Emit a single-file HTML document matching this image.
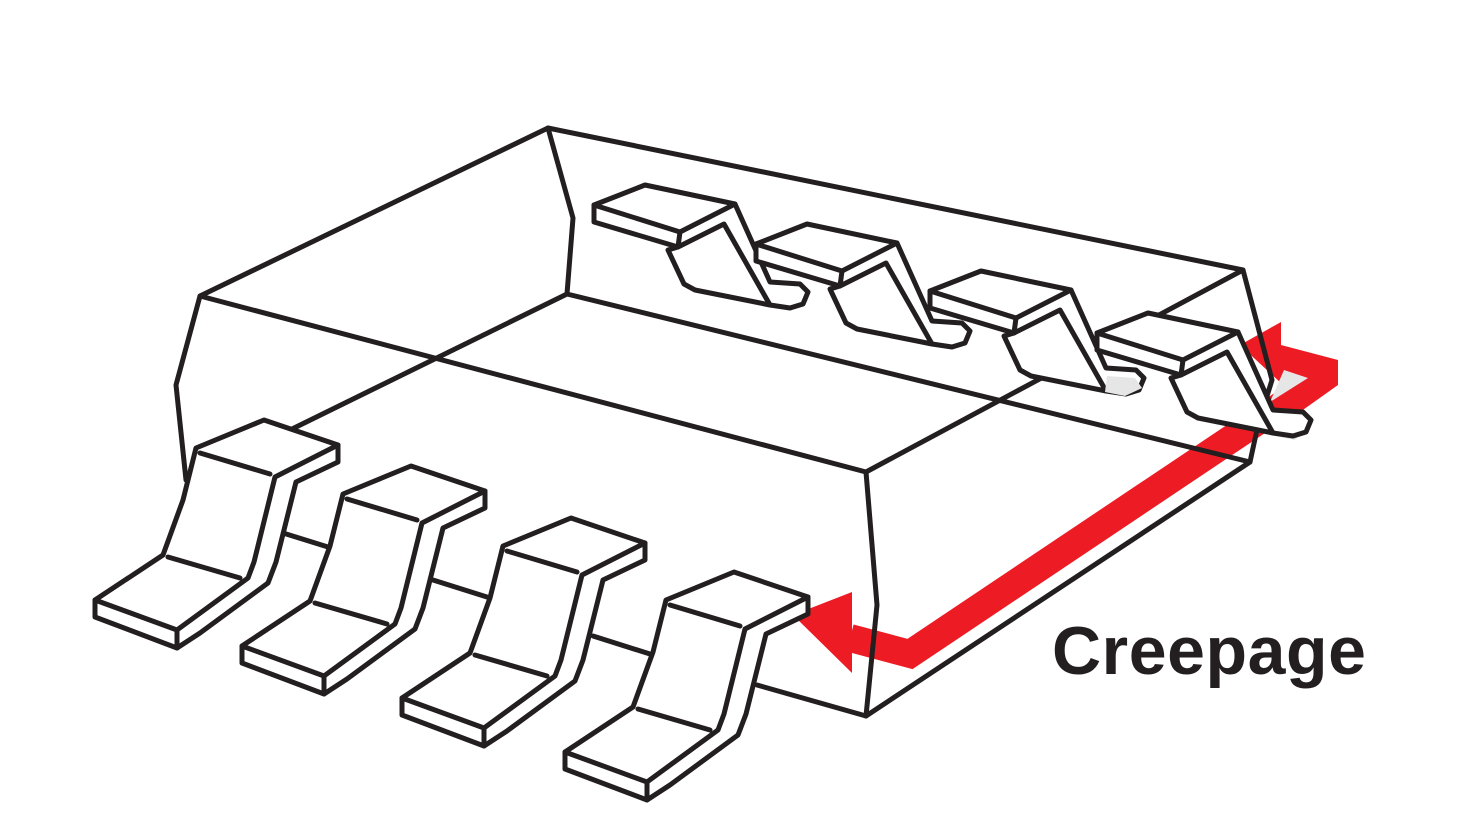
<!DOCTYPE html>
<html><head><style>html,body{margin:0;padding:0;background:#fff}svg{display:block}</style></head>
<body>
<svg width="1470" height="827" viewBox="0 0 1470 827" xmlns="http://www.w3.org/2000/svg">
<defs>
<g id="fl" fill="none" stroke="#231f20" stroke-width="5" stroke-linejoin="round" stroke-linecap="round">
  <path d="M196,448 L264,420 L338,445 L338,462 L296,482 L276,562 L268,583 L200,633 L177,648 L95,617 L95,600 L163,555 L183,500 Z" fill="#fff"/>
  <path d="M338,445 L275,477 L254,562 L248,578 L177,630 L95,600"/>
  <path d="M177,630 L177,648"/>
  <path d="M200,453 L270,474"/>
  <path d="M168,557 L240,578"/>
</g>
<g id="bl" fill="none" stroke="#231f20" stroke-width="5" stroke-linejoin="round" stroke-linecap="round">
  <path d="M594,205 L645,185 L735,204 L770,282 L800,284 L808,292 L803,304 L790,308 L770,305 L695,290 L684,284 L668,250 L678,247 L594,222 Z" fill="#fff"/>
  <path d="M594,205 L680,232 L735,204"/>
  <path d="M680,232 L678,247 L724,224 L770,305"/>
</g>
</defs>
<g fill="#ed1c24">
  <polyline points="850,638 910,654 1325,376" fill="none" stroke="#ed1c24" stroke-width="28" stroke-linejoin="miter"/>
  <polygon points="793,615 852,592 852,673"/>
  <polygon points="1281,322 1281,345 1338,360 1338,385 1300,412 1290,395 1308,378 1283,372 1283,385 1240,345"/>
</g>
<polygon points="1284,370 1308,378 1270,402" fill="#e6e6e6"/>
<g fill="none" stroke="#231f20" stroke-width="5" stroke-linejoin="round" stroke-linecap="round">
  <path d="M200,296 L548,128 L1243,270 L866,472 Z"/>
  <path d="M548,128 L573,218 L567,294 L1250,462"/>
  <path d="M567,294 L290,430"/>
  <path d="M200,296 L176,385 L186,480"/>
  <path d="M1243,270 L1272,380 L1258,425 L1250,462 L866,716 L877,605 L866,472"/>
  <path d="M283,533 L328,547 M433,580 L487,597 M593,636 L650,654 M757,685 L866,716"/>
</g>
<use href="#bl"/>
<use href="#bl" transform="translate(162,39)"/>
<use href="#bl" transform="translate(336,86)"/>
<path d="M1107,376 L1135,378 L1142,388 L1125,396 L1105,392 Z M1268,415 L1300,415 L1308,428 L1295,440 L1265,434 Z" fill="#e6e6e6"/>
<use href="#bl" transform="translate(503,128)"/>
<use href="#fl"/>
<use href="#fl" transform="translate(147,46)"/>
<use href="#fl" transform="translate(307,98)"/>
<use href="#fl" transform="translate(470,152)"/>
<text x="1052" y="674" font-family="Liberation Sans, sans-serif" font-weight="bold" font-size="68" textLength="314" fill="#231f20">Creepage</text>
</svg>
</body></html>
